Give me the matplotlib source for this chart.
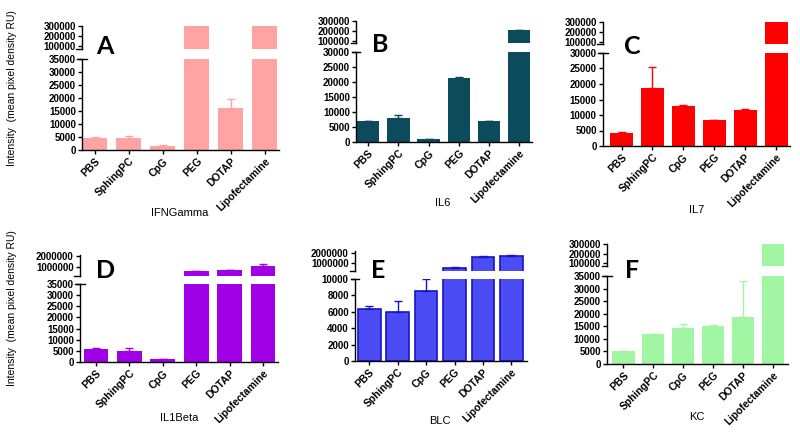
import numpy as np
import matplotlib.pyplot as plt

plt.rcParams['font.family'] = ['Liberation Sans', 'DejaVu Sans']

# groups on the x axis
groups = ['PBS', 'SphingPC', 'CpG', 'PEG', 'DOTAP', 'Lipofectamine']

# mean values and upper error (SEM) per cytokine
ifng_mean = [4800, 4500, 1650, 300000, 16200, 300000]
ifng_err = [150, 800, 100, 0, 3300, 0]

il6_mean = [6900, 8100, 900, 21200, 6900, 210000]
il6_err = [100, 900, 80, 350, 200, 0]

il7_mean = [4100, 18800, 12900, 8400, 11600, 300000]
il7_err = [400, 6700, 300, 100, 300, 0]

il1b_mean = [5700, 5100, 1200, 640000, 730000, 1120000]
il1b_err = [700, 1000, 100, 0, 40000, 150000]

blc_mean = [6300, 6000, 8570, 530000, 1570000, 1700000]
blc_err = [370, 1300, 1400, 100000, 130000, 130000]

kc_mean = [5000, 11900, 14400, 15000, 18700, 300000]
kc_err = [100, 200, 1600, 500, 14300, 0]

W, H = 800, 437
fig = plt.figure(figsize=(8, 4.37), dpi=100)


def px_axes(x0, x1, ytop, ybot):
    return fig.add_axes([x0 / W, 1 - ybot / H, (x1 - x0) / W, (ybot - ytop) / H])


def panel(mean, err, color, edge, x0, x1, up, low, up_lim, up_ticks,
          low_lim, low_ticks, xlim, letter, letter_xy, name, name_xy,
          width=0.74):
    xs = np.arange(len(groups))
    ax_up = px_axes(x0, x1, up[0], up[1])
    ax_lo = px_axes(x0, x1, low[0], low[1])
    for ax in (ax_up, ax_lo):
        ax.bar(xs, mean, width=width, color=color, edgecolor=edge,
               linewidth=1.2 if edge != color else 0)
        ax.errorbar(xs, mean, yerr=[np.zeros(len(err)), err], fmt='none',
                    ecolor=edge, elinewidth=1.0, capsize=3, capthick=1.0)
        ax.set_xlim(*xlim)
        for s in ('top', 'right'):
            ax.spines[s].set_visible(False)
        ax.spines['left'].set_linewidth(1.0)
        ax.spines['bottom'].set_linewidth(1.0)
        ax.tick_params(length=3, width=1.0, pad=1.5)
    ax_up.set_ylim(*up_lim)
    ax_up.set_yticks(up_ticks)
    ax_up.spines['bottom'].set_visible(False)
    ax_up.set_xticks([])
    ax_lo.set_ylim(*low_lim)
    ax_lo.set_yticks(low_ticks)
    for ax in (ax_up, ax_lo):
        ax.set_yticklabels([str(int(t)) for t in ax.get_yticks()],
                           fontsize=7, fontweight='bold')
    ax_lo.set_xticks(xs)
    ax_lo.set_xticklabels(groups, rotation=45, ha='right',
                          rotation_mode='anchor', fontsize=7.5,
                          fontweight='bold')
    # break marks on the y axis
    ax_up.plot([-0.03, 0.0], [0, 0], transform=ax_up.transAxes,
               color='black', lw=1.0, clip_on=False)
    ax_lo.plot([-0.025, 0.025], [1, 1], transform=ax_lo.transAxes,
               color='black', lw=1.0, clip_on=False)
    fig.text(letter_xy[0] / W, 1 - letter_xy[1] / H, letter,
             fontsize=18, fontweight='bold', family=['Lato', 'DejaVu Sans'],
             ha='center', va='center')
    fig.text(name_xy[0] / W, 1 - name_xy[1] / H, name, fontsize=8,
             ha='center', va='center')


panel(ifng_mean, ifng_err, '#FFA3A3', '#FFA3A3', 82, 279, (26, 49), (59, 150),
      (70000, 300000), [100000, 200000, 300000], (0, 35000),
      np.arange(0, 35001, 5000), (-0.38, 5.42), 'A', (105, 47),
      'IFNGamma', (180, 213))

panel(il6_mean, il6_err, '#0C4B5C', '#0C4B5C', 356, 532, (21, 43), (52, 142),
      (80000, 300000), [100000, 200000, 300000], (0, 30000),
      np.arange(0, 30001, 5000), (-0.4, 5.42), 'B', (380, 45),
      'IL6', (443, 203))

panel(il7_mean, il7_err, '#FF0000', '#FF0000', 603, 790, (22, 44), (53, 146),
      (80000, 300000), [100000, 200000, 300000], (0, 30000),
      np.arange(0, 30001, 5000), (-0.6, 5.45), 'C', (632, 46),
      'IL7', (697, 210))

panel(il1b_mean, il1b_err, '#A000E6', '#A000E6', 80, 278, (255, 276),
      (284, 362), (180000, 2100000), [1000000, 2000000], (0, 35000),
      np.arange(0, 35001, 5000), (-0.48, 5.45), 'D', (106, 271),
      'IL1Beta', (179, 418))

panel(blc_mean, blc_err, '#4C4CF5', '#1515C8', 355, 527, (251, 271),
      (279, 361), (200000, 2200000), [1000000, 2000000], (0, 10000),
      np.arange(0, 10001, 2000), (-0.5, 5.55), 'E', (378, 270),
      'BLC', (440, 421), width=0.8)

panel(kc_mean, kc_err, '#A2F5A2', '#A2F5A2', 607, 788, (244, 266),
      (276, 364), (70000, 300000), [100000, 200000, 300000], (0, 35000),
      np.arange(0, 35001, 5000), (-0.55, 5.5), 'F', (632, 270),
      'KC', (697, 417))

fig.text(12 / W, 1 - 88 / H, 'Intensity  (mean pixel density RU)',
         rotation=90, fontsize=7.5, ha='center', va='center')
fig.text(12 / W, 1 - 308 / H, 'Intensity  (mean pixel density RU)',
         rotation=90, fontsize=7.5, ha='center', va='center')

fig.savefig('out.png', dpi=100)
